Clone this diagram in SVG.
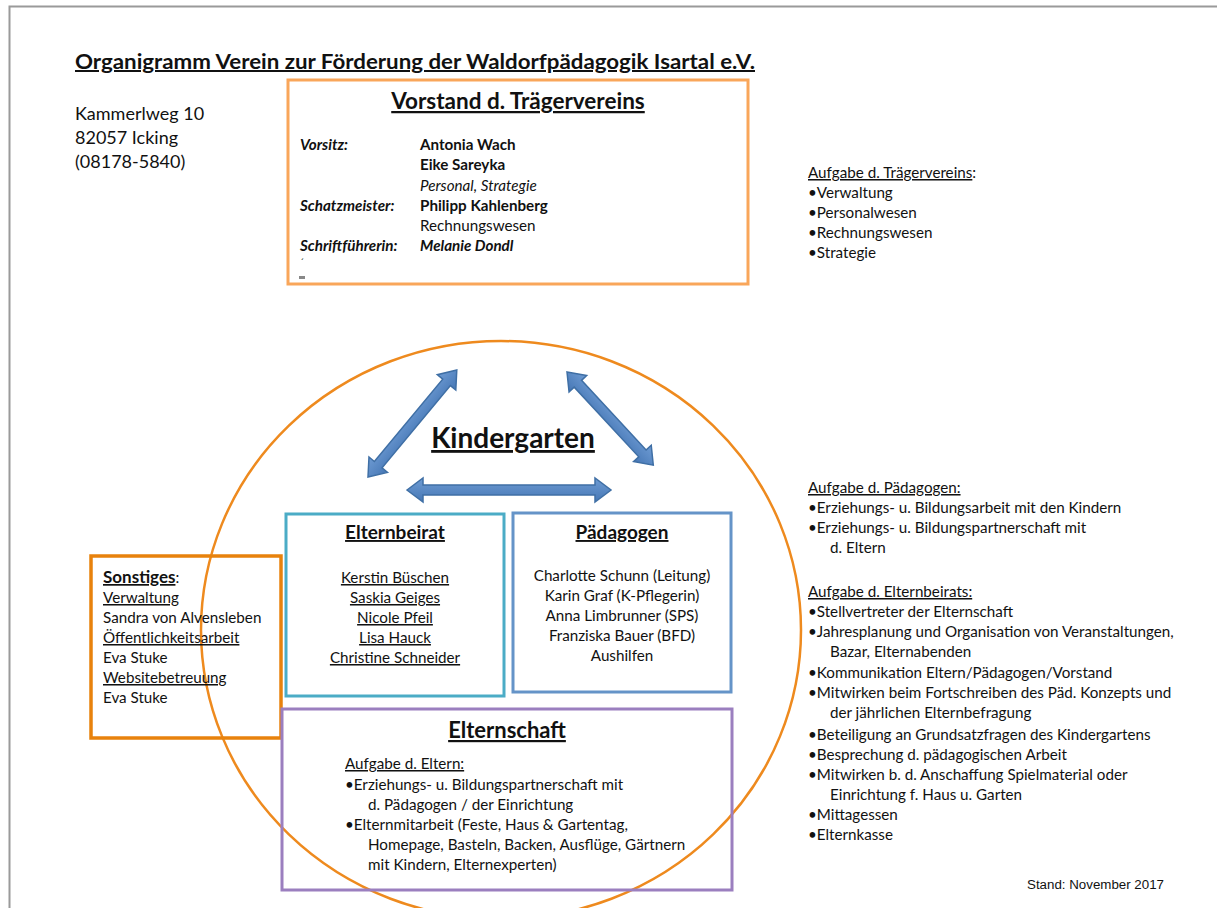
<svg xmlns="http://www.w3.org/2000/svg" width="1217" height="908" viewBox="0 0 1217 908">
<style>
svg{font-size:15.2px}
text{font-family:Lato,"Open Sans","Liberation Sans",sans-serif;fill:#111}
.u{text-decoration:underline}
.b{font-weight:bold}
.i{font-style:italic}
.c{text-anchor:middle}
.box{fill:none;stroke-width:3}
.arr{stroke:#3F6FA5;stroke-width:1.5}
</style>
<defs>
<linearGradient id="ag" x1="0" y1="0" x2="0" y2="1">
<stop offset="0" stop-color="#6E9BD3"/>
<stop offset="1" stop-color="#4677B5"/>
</linearGradient>
</defs>
<rect x="0" y="0" width="1217" height="908" fill="#fff"/>
<path d="M9.5 908 V6.5 H1217" fill="none" stroke="#9a9a9a" stroke-width="2"/>

<text x="75" y="69" class="b u" font-size="20" textLength="680" lengthAdjust="spacingAndGlyphs">Organigramm Verein zur Förderung der Waldorfpädagogik Isartal e.V.</text>

<g id="address">
<text x="75" y="120" font-size="18">Kammerlweg 10</text>
<text x="75" y="144" font-size="18">82057 Icking</text>
<text x="75" y="168" font-size="18">(08178-5840)</text>
</g>

<g id="vorstand">
<rect class="box" x="288" y="80" width="460" height="204" stroke="#F9A65A"/>
<text x="518" y="109" class="b u c" font-size="22.5">Vorstand d. Trägervereins</text>
<text x="300" y="150" class="b i">Vorsitz:</text>
<text x="420" y="150" class="b">Antonia Wach</text>
<text x="420" y="170" class="b">Eike Sareyka</text>
<text x="420" y="191" class="i">Personal, Strategie</text>
<text x="300" y="211" class="b i">Schatzmeister:</text>
<text x="420" y="211" class="b">Philipp Kahlenberg</text>
<text x="420" y="231">Rechnungswesen</text>
<text x="300" y="251" class="b i">Schriftführerin:</text>
<text x="420" y="251" class="b i">Melanie Dondl</text>
<text x="300" y="266" font-size="10">´</text>
<rect x="299" y="276" width="6" height="3" fill="#888"/>
</g>

<g id="aufgabe-traeger">
<text x="808" y="178"><tspan class="u">Aufgabe d. Trägervereins</tspan>:</text>
<text x="808" y="198">•Verwaltung</text>
<text x="808" y="218">•Personalwesen</text>
<text x="808" y="238">•Rechnungswesen</text>
<text x="808" y="258">•Strategie</text>
</g>

<g id="kindergarten">
<ellipse cx="501" cy="630" rx="300" ry="289" fill="none" stroke="#EE8A1E" stroke-width="2.5"/>
<text x="513" y="448" class="b u c" font-size="28">Kindergarten</text>
</g>

<g id="elternbeirat">
<rect class="box" x="286" y="514" width="218" height="182" stroke="#4BACC6"/>
<text x="395" y="539" class="b u c" font-size="19">Elternbeirat</text>
<text x="395" y="583" class="u c">Kerstin Büschen</text>
<text x="395" y="603" class="u c">Saskia Geiges</text>
<text x="395" y="623" class="u c">Nicole Pfeil</text>
<text x="395" y="643" class="u c">Lisa Hauck</text>
<text x="395" y="663" class="u c">Christine Schneider</text>
</g>

<g id="paedagogen">
<rect class="box" x="513" y="513" width="218" height="179" stroke="#6594C8"/>
<text x="622" y="539" class="b u c" font-size="19">Pädagogen</text>
<text x="622" y="581" class="c">Charlotte Schunn (Leitung)</text>
<text x="622" y="601" class="c">Karin Graf (K-Pflegerin)</text>
<text x="622" y="621" class="c">Anna Limbrunner (SPS)</text>
<text x="622" y="641" class="c">Franziska Bauer (BFD)</text>
<text x="622" y="661" class="c">Aushilfen</text>
</g>

<g id="sonstiges">
<rect x="91" y="556" width="190" height="182" fill="none" stroke="#E8820C" stroke-width="3.5"/>
<text x="103" y="583"><tspan class="b u" font-size="17">Sonstiges</tspan>:</text>
<text x="103" y="603" class="u">Verwaltung</text>
<text x="103" y="623">Sandra von Alvensleben</text>
<text x="103" y="643" class="u">Öffentlichkeitsarbeit</text>
<text x="103" y="663">Eva Stuke</text>
<text x="103" y="683" class="u">Websitebetreuung</text>
<text x="103" y="703">Eva Stuke</text>
</g>

<g id="elternschaft">
<rect class="box" x="282" y="709" width="450" height="181" stroke="#9B7FBF"/>
<text x="507" y="738" class="b u c" font-size="22">Elternschaft</text>
<text x="345" y="769" class="u">Aufgabe d. Eltern:</text>
<text x="345" y="790">•Erziehungs- u. Bildungspartnerschaft mit</text>
<text x="368" y="810">d. Pädagogen / der Einrichtung</text>
<text x="345" y="830">•Elternmitarbeit (Feste, Haus &amp; Gartentag,</text>
<text x="368" y="850">Homepage, Basteln, Backen, Ausflüge, Gärtnern</text>
<text x="368" y="870">mit Kindern, Elternexperten)</text>
</g>

<g id="aufgabe-paedagogen">
<text x="808" y="493" class="u">Aufgabe d. Pädagogen:</text>
<text x="808" y="513">•Erziehungs- u. Bildungsarbeit mit den Kindern</text>
<text x="808" y="533">•Erziehungs- u. Bildungspartnerschaft mit</text>
<text x="830" y="553">d. Eltern</text>
</g>

<g id="aufgabe-elternbeirat">
<text x="808" y="597" class="u">Aufgabe d. Elternbeirats:</text>
<text x="808" y="617">•Stellvertreter der Elternschaft</text>
<text x="808" y="637">•Jahresplanung und Organisation von Veranstaltungen,</text>
<text x="830" y="657">Bazar, Elternabenden</text>
<text x="808" y="678">•Kommunikation Eltern/Pädagogen/Vorstand</text>
<text x="808" y="698">•Mitwirken beim Fortschreiben des Päd. Konzepts und</text>
<text x="830" y="718">der jährlichen Elternbefragung</text>
<text x="808" y="740">•Beteiligung an Grundsatzfragen des Kindergartens</text>
<text x="808" y="760">•Besprechung d. pädagogischen Arbeit</text>
<text x="808" y="780">•Mitwirken b. d. Anschaffung Spielmaterial oder</text>
<text x="830" y="800">Einrichtung f. Haus u. Garten</text>
<text x="808" y="820">•Mittagessen</text>
<text x="808" y="840">•Elternkasse</text>
</g>

<text x="1027" y="889" style="font-family:'Liberation Sans',Arial,sans-serif" font-size="12.5" textLength="137" lengthAdjust="spacingAndGlyphs">Stand: November 2017</text>

<g id="connectors">
<polygon class="arr" fill="url(#ag)" transform="translate(368,477) rotate(-50.3)" points="0,0 16,-12 16,-5 123,-5 123,-12 139,0 123,12 123,5 16,5 16,12"/>
<polygon class="arr" fill="url(#ag)" transform="translate(567,372) rotate(47.2)" points="0,0 16,-12 16,-5 111,-5 111,-12 127,0 111,12 111,5 16,5 16,12"/>
<polygon class="arr" fill="url(#ag)" transform="translate(407,490)" points="0,0 16,-12 16,-5 188,-5 188,-12 204,0 188,12 188,5 16,5 16,12"/>
</g>
</svg>
